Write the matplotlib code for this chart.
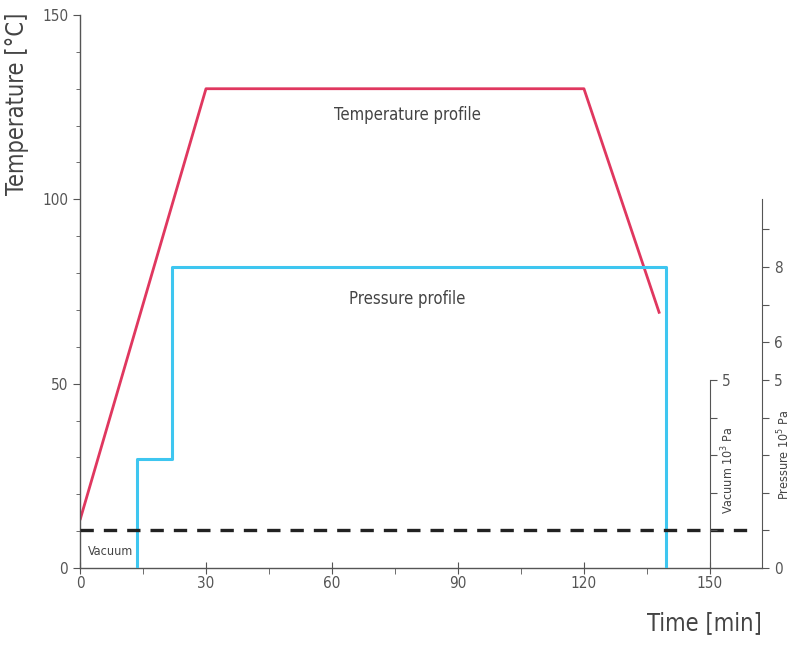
import matplotlib
matplotlib.use("Agg")
import matplotlib.pyplot as plt

plt.rcParams['font.family'] = ['DejaVu Sans']
plt.rcParams['font.stretch'] = 'condensed'

# temperature profile (deg C vs min)
temp_time = [0, 30, 120, 138]
temp_values = [13, 130, 130, 69]

# pressure profile (10^5 Pa vs min)
press_time = [13.5, 13.5, 22, 22, 139.5, 139.5]
press_values = [0, 2.9, 2.9, 8, 8, 0]

# vacuum level (same scale as pressure axis)
vac_time = [0, 161]
vac_values = [1, 1]

x_ticks = [0, 30, 60, 90, 120, 150]
temp_ticks = [0, 50, 100, 150]
press_ticks = [0, 1, 2, 3, 4, 5, 6, 7, 8, 9]
press_labels = ['0', '', '', '', '', '5', '6', '', '8', '']
vac_ticks = [1, 2, 3, 4, 5]
vac_labels = ['', '', '', '', '5']

grey = '#555555'
red = '#e0375f'
blue = '#3ec6f0'

fig = plt.figure(figsize=(7.93, 6.52), dpi=100)
ax = fig.add_axes([80 / 793, 84 / 652, 682 / 793, 553 / 652])
ax.set_xlim(0, 162.4)
ax.set_ylim(0, 150)

ax.plot(temp_time, temp_values, color=red, lw=2.0, solid_capstyle='butt')

for s in ['top', 'right']:
    ax.spines[s].set_visible(False)
for s in ['left', 'bottom']:
    ax.spines[s].set_color(grey)
    ax.spines[s].set_linewidth(1.0)

ax.set_xticks(x_ticks)
ax.set_xticks([15, 45, 75, 105, 135], minor=True)
ax.set_yticks(temp_ticks)
ax.set_yticks([v for v in range(10, 150, 10) if v % 50], minor=True)
ax.tick_params(axis='x', which='major', direction='inout', length=8, colors=grey,
               labelsize=11, pad=2)
ax.tick_params(axis='x', which='minor', direction='out', length=4, colors=grey)
ax.tick_params(axis='y', which='major', direction='out', length=5, colors=grey,
               labelsize=11)
ax.tick_params(axis='y', which='minor', direction='out', length=3, colors=grey)

ax.set_ylabel('Temperature [°C]', fontsize=17, color='#444444', fontweight='medium')
ax.yaxis.set_label_coords(-0.075, 0.84)
ax.text(1.0, -0.1, 'Time [min]', transform=ax.transAxes, ha='right', va='center',
        fontsize=17, color='#444444', fontweight='medium')

ax.text(78, 123, 'Temperature profile', ha='center', va='center', fontsize=12,
        color='#444444')
ax.text(78, 73, 'Pressure profile', ha='center', va='center', fontsize=12,
        color='#444444')
ax.text(2, 4.5, 'Vacuum', ha='left', va='center', fontsize=9, color='#444444')

# pressure axis on the right
ax2 = ax.twinx()
ax2.set_ylim(0, 14.7)
ax2.plot(press_time, press_values, color=blue, lw=2.2)
ax2.plot(vac_time, vac_values, color='#222222', lw=2.4, dashes=(4, 3))
for s in ['top', 'left', 'bottom']:
    ax2.spines[s].set_visible(False)
ax2.spines['right'].set_bounds(0, 9.8)
ax2.spines['right'].set_color(grey)
ax2.set_yticks(press_ticks)
ax2.set_yticklabels(press_labels)
ax2.tick_params(axis='y', direction='out', length=5, colors=grey, labelsize=11)
ax2.text(1.032, 0.205, r'Pressure 10$^5$ Pa', transform=ax2.transAxes,
         rotation=90, ha='center', va='center', fontsize=9, color='#444444')

# vacuum axis at t = 150 min
ax3 = ax.twinx()
ax3.set_ylim(0, 14.7)
for s in ['top', 'left', 'bottom']:
    ax3.spines[s].set_visible(False)
ax3.spines['right'].set_position(('data', 150))
ax3.spines['right'].set_bounds(0, 5)
ax3.spines['right'].set_color(grey)
ax3.set_yticks(vac_ticks)
ax3.set_yticklabels(vac_labels)
ax3.tick_params(axis='y', direction='out', length=5, colors=grey, labelsize=11)
ax3.text(154.3, 2.6, r'Vacuum 10$^3$ Pa', rotation=90, ha='center', va='center',
         fontsize=9, color='#444444')

fig.savefig('out.png', dpi=100)
